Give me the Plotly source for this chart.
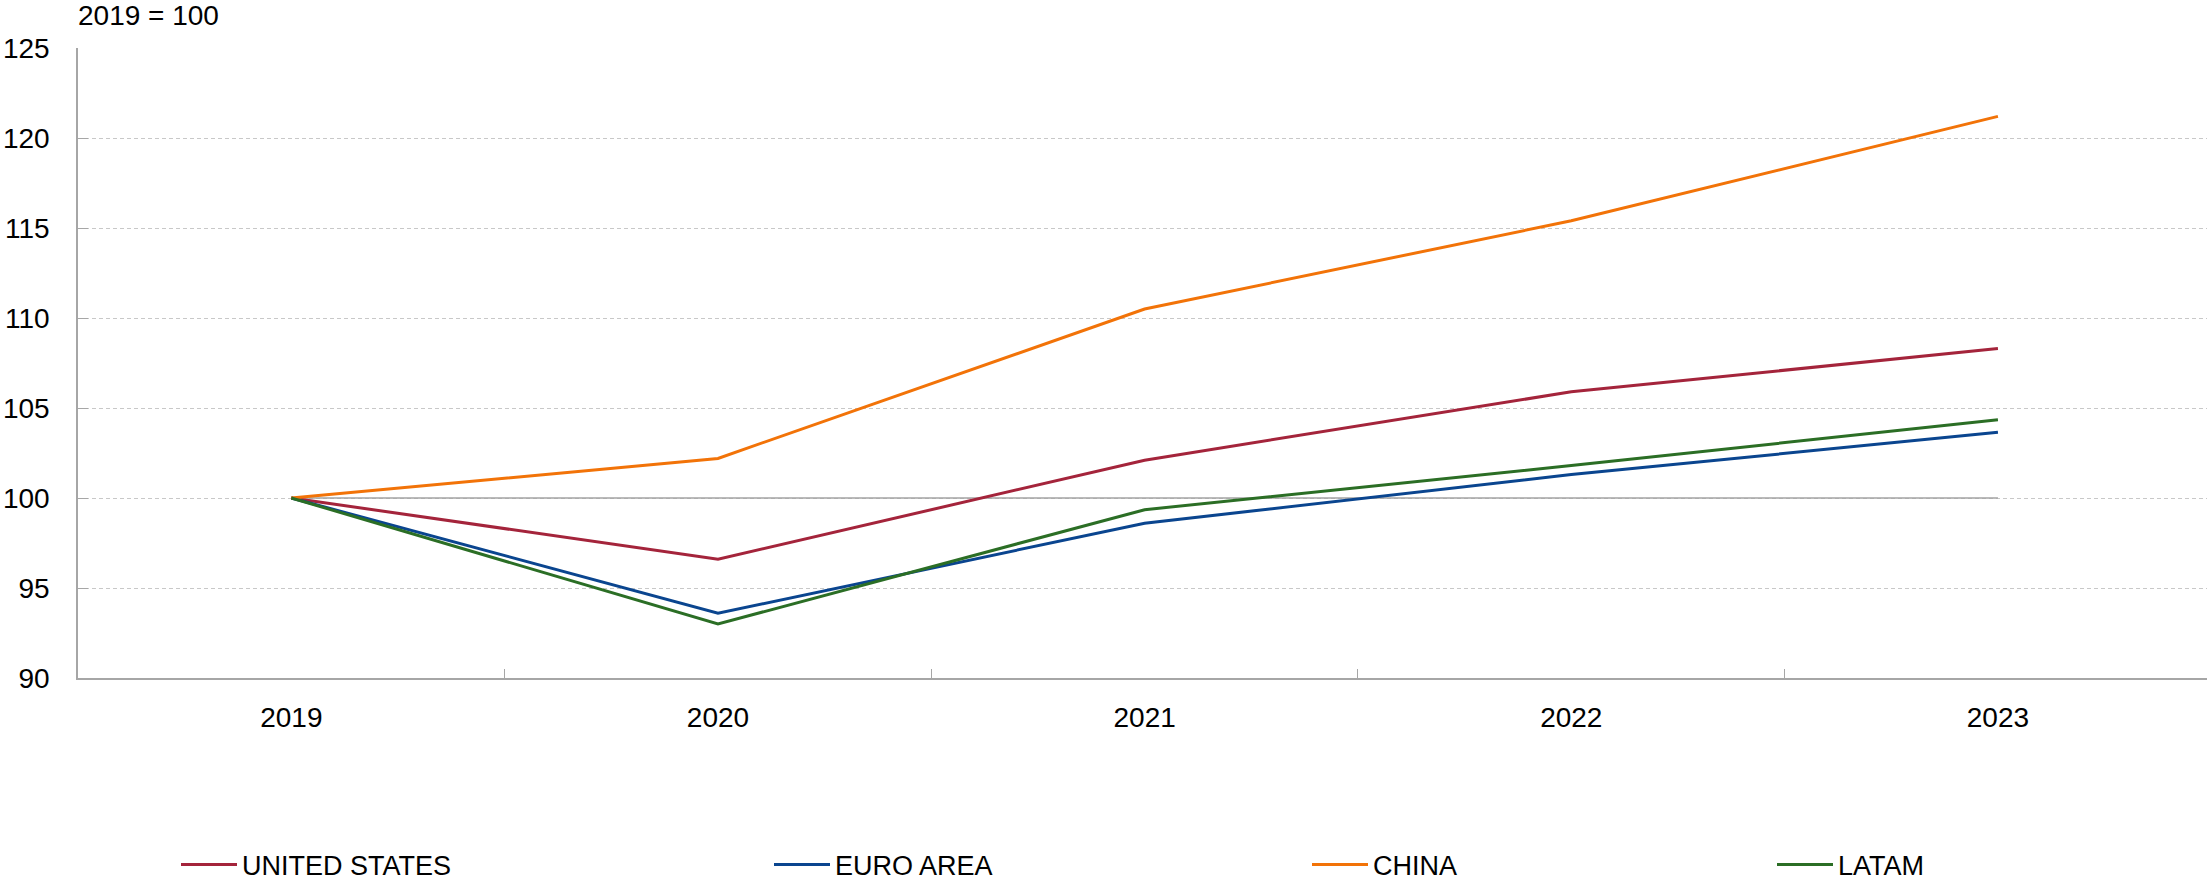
import plotly.graph_objects as go

years = ["2019", "2020", "2021", "2022", "2023"]
united_states = [100.0, 96.6, 102.1, 105.9, 108.3]
euro_area = [100.0, 93.6, 98.6, 101.3, 103.65]
china = [100.0, 102.2, 110.5, 115.4, 121.2]
latam = [100.0, 93.0, 99.35, 101.8, 104.35]
baseline = [100, 100, 100, 100, 100]
y_ticks = [90, 95, 100, 105, 110, 115, 120, 125]

FONT = "Liberation Sans, Arial, Helvetica, sans-serif"
W, H = 2207, 880

fig = go.Figure()
fig.add_trace(go.Scatter(x=years, y=baseline, mode="lines", showlegend=False,
                         line=dict(color="#a3a3a3", width=1.5), hoverinfo="skip"))

series = [
    ("UNITED STATES", united_states, "#a4243b", "legend", 183),
    ("EURO AREA", euro_area, "#0a458f", "legend2", 776),
    ("CHINA", china, "#f27308", "legend3", 1314),
    ("LATAM", latam, "#2b6e25", "legend4", 1779),
]
for name, vals, col, lg, _ in series:
    fig.add_trace(go.Scatter(x=years, y=vals, mode="lines", name=name, legend=lg,
                             line=dict(color=col, width=3)))

legend_common = dict(orientation="h", xref="container", yref="container",
                     xanchor="left", yanchor="middle", y=1 - 865 / H,
                     font=dict(family=FONT, size=27, color="black"),
                     bgcolor="rgba(0,0,0,0)", borderwidth=0, itemwidth=56)
layout_legends = {}
for name, vals, col, lg, px in series:
    layout_legends[lg] = dict(legend_common, x=(px - 7) / W)

fig.update_layout(
    width=W, height=H, autosize=False,
    margin=dict(l=78, r=0, t=48, b=202, pad=0),
    plot_bgcolor="white", paper_bgcolor="white",
    font=dict(family=FONT, size=28, color="black"),
    showlegend=True,
    **layout_legends,
    xaxis=dict(type="category", categoryorder="array", categoryarray=years,
               range=[-0.5, 4.49], showgrid=False, zeroline=False,
               showline=True, linecolor="#a6a6a6", linewidth=1.5,
               ticks="inside", tickson="boundaries", ticklen=9, tickwidth=1,
               tickcolor="#a6a6a6", tickfont=dict(size=28, family=FONT),
               ticklabelstandoff=14),
    yaxis=dict(range=[90, 125], tickvals=y_ticks, showgrid=True,
               gridcolor="#c8c8c8", griddash="4px,3px", gridwidth=1.2,
               zeroline=False, showline=True, linecolor="#a6a6a6", linewidth=1.5,
               ticks="inside", ticklen=10, tickwidth=1, tickcolor="#a6a6a6",
               tickfont=dict(size=28, family=FONT), ticklabelstandoff=21),
    annotations=[dict(text="2019 = 100", xref="paper", yref="paper", x=0, y=1,
                      xanchor="left", yanchor="middle", yshift=33, showarrow=False,
                      xshift=-2, font=dict(size=28, family=FONT, color="black"))],
)

fig.write_html("out.html")
